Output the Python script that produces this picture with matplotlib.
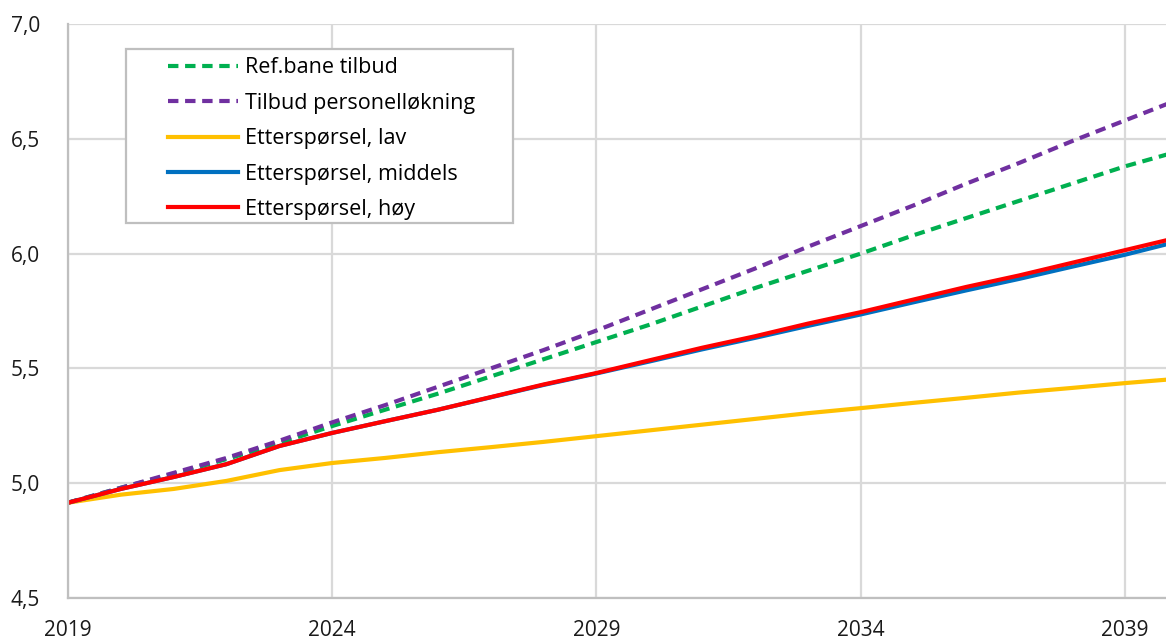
import matplotlib
matplotlib.use("Agg")
import matplotlib.pyplot as plt
from matplotlib.patches import Rectangle
from matplotlib.ticker import FuncFormatter

plt.rcParams['font.family'] = ['Open Sans', 'DejaVu Sans']

years = list(range(2019, 2041))

ref_tilbud = [4.915, 4.98, 5.04, 5.105, 5.175, 5.249, 5.32, 5.39, 5.465, 5.54, 5.615,
              5.69, 5.77, 5.85, 5.925, 6.00, 6.08, 6.155, 6.23, 6.305, 6.38, 6.445]
tilbud_personell = [4.915, 4.98, 5.045, 5.11, 5.185, 5.265, 5.34, 5.42, 5.50, 5.58, 5.665,
                    5.755, 5.845, 5.935, 6.03, 6.12, 6.21, 6.305, 6.395, 6.49, 6.58, 6.67]
ettersp_lav = [4.915, 4.95, 4.975, 5.01, 5.057, 5.088, 5.11, 5.135, 5.157, 5.18, 5.205,
               5.23, 5.255, 5.28, 5.305, 5.327, 5.35, 5.372, 5.395, 5.415, 5.436, 5.455]
ettersp_middels = [4.915, 4.975, 5.027, 5.083, 5.162, 5.219, 5.27, 5.32, 5.374, 5.428, 5.478,
                   5.53, 5.583, 5.633, 5.685, 5.735, 5.788, 5.84, 5.89, 5.943, 5.995, 6.053]
ettersp_hoy = [4.915, 4.975, 5.027, 5.083, 5.162, 5.219, 5.27, 5.32, 5.375, 5.43, 5.48,
               5.535, 5.59, 5.64, 5.695, 5.745, 5.80, 5.855, 5.905, 5.96, 6.015, 6.07]

fig = plt.figure(figsize=(11.66, 6.39), dpi=100)
ax = fig.add_axes([68 / 1166, 41 / 639, 1 - 68 / 1166, 574 / 639])

lw = 3
dash = (0, (2.5, 1.6))
ax.plot(years, ref_tilbud, color='#00B050', linewidth=lw, linestyle=dash, label='Ref.bane tilbud')
ax.plot(years, tilbud_personell, color='#7030A0', linewidth=lw, linestyle=dash,
        label='Tilbud personelløkning')
ax.plot(years, ettersp_lav, color='#FFC000', linewidth=lw, label='Etterspørsel, lav')
ax.plot(years, ettersp_middels, color='#0070C0', linewidth=lw, label='Etterspørsel, middels')
ax.plot(years, ettersp_hoy, color='#FF0000', linewidth=lw, label='Etterspørsel, høy')

ax.set_xlim(2019, 2019 + 1098 / 52.85)
ax.set_ylim(4.5, 7.0)
ax.set_xticks([2019, 2024, 2029, 2034, 2039])
ax.set_yticks([4.5, 5.0, 5.5, 6.0, 6.5, 7.0])
ax.yaxis.set_major_formatter(FuncFormatter(lambda v, p: f"{v:.1f}".replace('.', ',')))

ax.grid(True, color='#D9D9D9', linewidth=1.6)
ax.set_axisbelow(True)
for s in ['top', 'right']:
    ax.spines[s].set_visible(False)
for s in ['left', 'bottom']:
    ax.spines[s].set_color('#BFBFBF')
    ax.spines[s].set_linewidth(1.6)
ax.tick_params(axis='both', length=0, labelsize=15, colors='#1a1a1a')
ax.tick_params(axis='x', pad=16)
ax.tick_params(axis='y', pad=20)

# legend box drawn separately so the inner padding matches the original
ax.add_patch(Rectangle((0.0528, 0.6533), 0.3525, 0.3031, transform=ax.transAxes,
                       facecolor='white', edgecolor='#BFBFBF', linewidth=1.6, zorder=4))
leg = ax.legend(loc='upper left', bbox_to_anchor=(0.0911, 0.942), frameon=False,
                fontsize=15.5, handlelength=3.25, handletextpad=0.32, borderpad=0,
                labelspacing=0.67, borderaxespad=0)
leg.set_zorder(5)

fig.savefig('out.png', dpi=100)
